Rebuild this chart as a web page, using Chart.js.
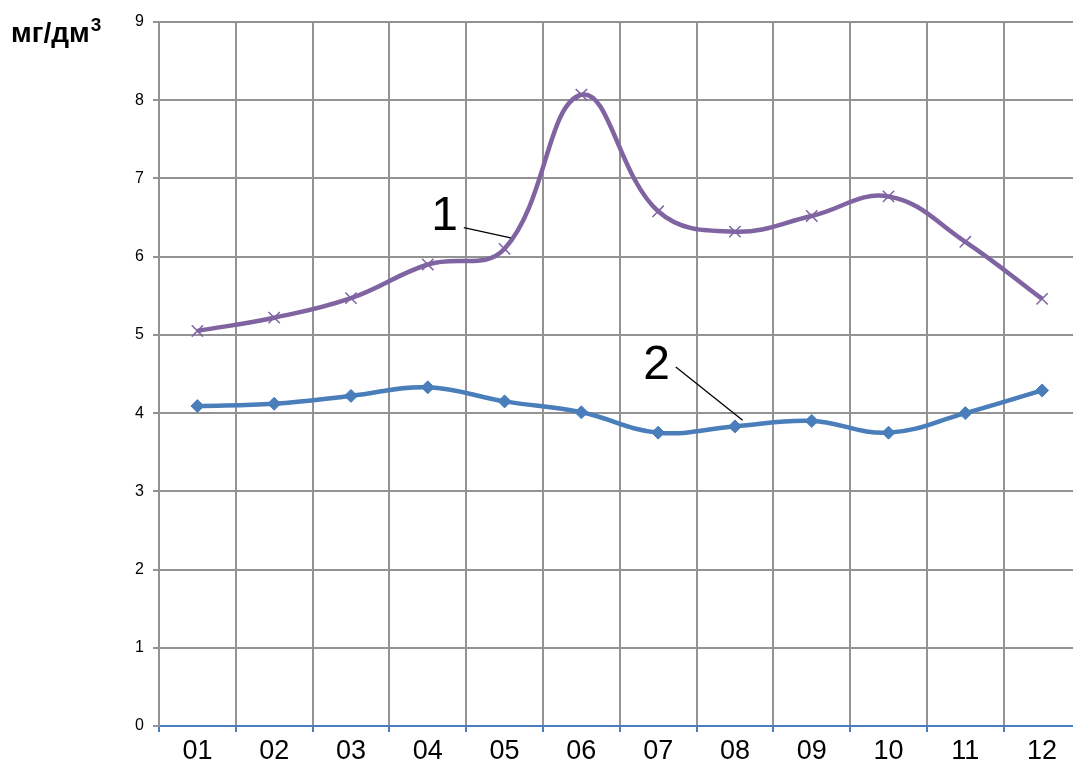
<!DOCTYPE html>
<html>
<head>
<meta charset="utf-8">
<script src="https://cdn.jsdelivr.net/npm/chart.js@4/dist/chart.umd.min.js"></script>
<style>
  html, body { margin: 0; padding: 0; background: #fff; overflow: hidden; }
  #wrap { width: 1073px; height: 767px; overflow: hidden; }
  #chart { display: block; }
</style>
</head>
<body>
<div id="wrap"><canvas id="chart" width="1090" height="767"></canvas></div>
<script>
var months = ['01', '02', '03', '04', '05', '06', '07', '08', '09', '10', '11', '12'];
var series1 = [5.05, 5.22, 5.47, 5.90, 6.10, 8.07, 6.58, 6.32, 6.52, 6.77, 6.19, 5.46];
var series2 = [4.09, 4.12, 4.22, 4.33, 4.15, 4.01, 3.75, 3.83, 3.90, 3.75, 4.00, 4.29];
var yTicks = [0, 1, 2, 3, 4, 5, 6, 7, 8, 9];
var unitLabel = 'мг/дм';

// curve labels: text position and leader line, in data units (category index, value)
var curveLabels = [
    { text: '1', at: [3.22, 6.51], from: [3.47, 6.37], to: [4.08, 6.24] },
    { text: '2', at: [5.98, 4.6], from: [6.23, 4.59], to: [7.1, 3.91] }
];

var purple = '#8064A2';
var blue = '#4A7EBB';
var gridGray = '#939393';
var font = "'Liberation Sans', Arial, sans-serif";

var labelsPlugin = {
    id: 'curveLabels',
    afterDatasetsDraw: function (chart) {
        var ctx = chart.ctx;
        var xs = chart.scales.x, ys = chart.scales.y;
        ctx.save();
        curveLabels.forEach(function (l) {
            ctx.strokeStyle = '#000';
            ctx.lineWidth = 1.3;
            ctx.beginPath();
            ctx.moveTo(xs.getPixelForValue(l.from[0]), ys.getPixelForValue(l.from[1]));
            ctx.lineTo(xs.getPixelForValue(l.to[0]), ys.getPixelForValue(l.to[1]));
            ctx.stroke();
            ctx.fillStyle = '#000';
            ctx.font = '48px ' + font;
            ctx.textAlign = 'center';
            ctx.textBaseline = 'middle';
            ctx.fillText(l.text, xs.getPixelForValue(l.at[0]), ys.getPixelForValue(l.at[1]));
        });
        // unit caption
        ctx.font = 'bold 28px ' + font;
        ctx.textAlign = 'left';
        ctx.textBaseline = 'alphabetic';
        ctx.fillText(unitLabel, 11, 42);
        var w = ctx.measureText(unitLabel).width;
        ctx.font = 'bold 19px ' + font;
        ctx.fillText('3', 11 + w + 1, 31);
        ctx.restore();
    }
};

var ctx = document.getElementById('chart').getContext('2d');
var chart = new Chart(ctx, {
    type: 'line',
    data: {
        labels: months,
        datasets: [
            {
                label: '1',
                data: series1,
                borderColor: purple,
                borderWidth: 4.5,
                tension: 0.4,
                pointStyle: 'crossRot',
                pointRadius: 8,
                pointBorderWidth: 1.5,
                pointBorderColor: purple,
                pointBackgroundColor: purple
            },
            {
                label: '2',
                data: series2,
                borderColor: blue,
                borderWidth: 4.5,
                tension: 0.4,
                pointStyle: 'rectRot',
                pointRadius: 6.5,
                pointBorderWidth: 1,
                pointBorderColor: blue,
                pointBackgroundColor: blue
            }
        ]
    },
    options: {
        responsive: false,
        animation: false,
        layout: { padding: { top: 22, right: 6, left: 0, bottom: 0 } },
        plugins: {
            legend: { display: false },
            tooltip: { enabled: false }
        },
        scales: {
            x: {
                type: 'category',
                offset: true,
                grid: {
                    offset: true,
                    color: gridGray,
                    lineWidth: 2,
                    tickColor: blue,
                    tickLength: 6
                },
                border: { color: blue, width: 2 },
                ticks: {
                    color: '#000',
                    padding: 3,
                    font: { family: font, size: 27 },
                    maxRotation: 0,
                    autoSkip: false
                },
                afterFit: function (s) { s.height = 41; }
            },
            y: {
                min: 0,
                max: 9,
                afterBuildTicks: function (s) { s.ticks = yTicks.map(function (v) { return { value: v }; }); },
                grid: {
                    color: gridGray,
                    lineWidth: 2,
                    tickColor: gridGray,
                    tickLength: 6
                },
                border: { color: gridGray, width: 2 },
                ticks: {
                    color: '#000',
                    padding: 9,
                    font: { family: font, size: 16 }
                },
                afterFit: function (s) { s.width = 159; }
            }
        }
    },
    plugins: [labelsPlugin]
});
</script>
</body>
</html>
